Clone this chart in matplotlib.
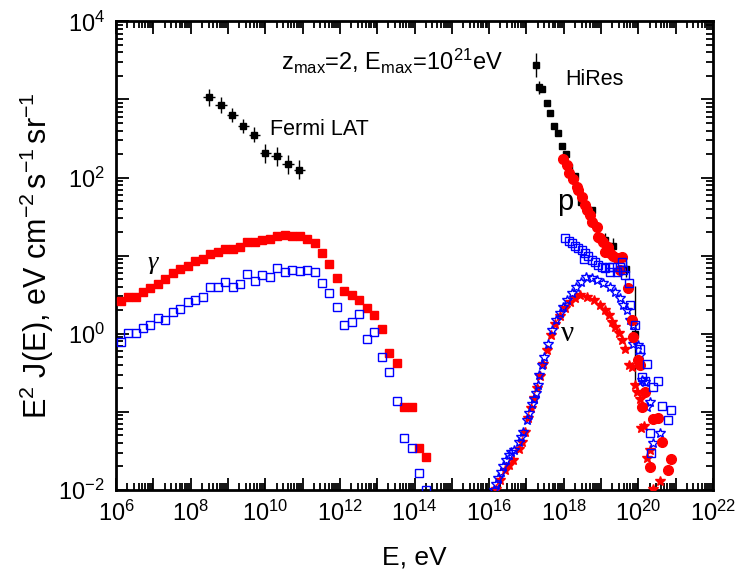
import matplotlib

matplotlib.use("Agg")

import matplotlib.pyplot as plt
import numpy as np
from matplotlib.ticker import FuncFormatter, LogLocator, NullFormatter


# spectra stored as log10(E/eV) and log10(E^2 J / eV cm^-2 s^-1 sr^-1)

# gamma rays, two source models
GAMMA_LOGE = [
    6.12, 6.32, 6.52, 6.72, 6.92, 7.12, 7.32, 7.52, 7.72, 7.92,
    8.12, 8.32, 8.52, 8.72, 8.92, 9.12, 9.32, 9.52, 9.72, 9.92,
    10.12, 10.32, 10.52, 10.72, 10.92, 11.12, 11.32, 11.52, 11.72, 11.92,
    12.12, 12.32, 12.52, 12.72, 12.92, 13.12, 13.32, 13.52, 13.72, 13.92,
    14.12, 14.32,
]
GAMMA_RED = [
    0.417, 0.473, 0.473, 0.528, 0.588, 0.631, 0.699, 0.772, 0.827, 0.866,
    0.930, 0.956, 1.015, 1.041, 1.080, 1.084, 1.105, 1.174, 1.169, 1.195,
    1.208, 1.255, 1.263, 1.255, 1.246, 1.212, 1.156, 1.028, 0.891, 0.712,
    0.545, 0.494, 0.438, 0.323, 0.238, 0.054, -0.250, -0.369, -0.942, -0.942,
    -1.467, -1.583,
]
GAMMA_BLUE = [
    -0.100, 0.007, 0.011, 0.075, 0.109, 0.195, 0.178, 0.280, 0.315, 0.409,
    0.426, 0.468, 0.597, 0.601, 0.656, 0.597, 0.635, 0.763, 0.678, 0.746,
    0.725, 0.836, 0.793, 0.815, 0.802, 0.819, 0.789, 0.644, 0.524, 0.340,
    0.109, 0.156, 0.250, -0.066, 0.020, -0.301, -0.493, -0.861, -1.339, -1.467,
    -1.784, -2.006,
]

# neutrinos
NU_BLUE_LOGE = [
    16.12, 16.19, 16.25, 16.31, 16.38, 16.46, 16.52, 16.58, 16.67, 16.79,
    16.86, 16.92, 17.01, 17.08, 17.15, 17.21, 17.26, 17.30, 17.35, 17.41,
    17.47, 17.59, 17.68, 17.80, 17.90, 17.99, 18.10, 18.22, 18.33, 18.46,
    18.60, 18.76, 18.90, 19.06, 19.24, 19.38, 19.51, 19.60, 19.69, 19.78,
    19.87, 19.87, 20.00, 20.05, 20.09, 20.18, 20.30, 20.23, 20.58, 20.39,
]
NU_BLUE = [
    -1.997, -1.921, -1.844, -1.772, -1.699, -1.622, -1.558, -1.515, -1.485, -1.387,
    -1.323, -1.259, -1.109, -1.015, -0.904, -0.831, -0.754, -0.660, -0.532, -0.404,
    -0.301, -0.126, 0.045, 0.173, 0.259, 0.344, 0.429, 0.515, 0.600, 0.664,
    0.721, 0.712, 0.692, 0.644, 0.600, 0.536, 0.451, 0.365, 0.301, 0.173,
    0.109, -0.126, -0.147, -0.276, -0.596, -0.618, -0.874, -0.938, -1.267, -1.400,
]
NU_RED_LOGE = [
    16.19, 16.30, 16.43, 16.52, 16.65, 16.79, 16.88, 16.97, 17.05, 17.13,
    17.21, 17.29, 17.37, 17.45, 17.56, 17.66, 17.77, 17.90, 18.04, 18.17,
    18.31, 18.44, 18.62, 18.80, 18.98, 19.11, 19.20, 19.29, 19.38, 19.47,
    19.56, 19.65, 19.74, 19.83, 19.91, 19.96, 20.05, 20.14, 20.06, 20.30,
    20.24, 20.58, 20.39,
]
NU_RED = [
    -1.985, -1.878, -1.750, -1.686, -1.622, -1.472, -1.387, -1.259, -1.083, -0.955,
    -0.827, -0.699, -0.545, -0.391, -0.212, -0.019, 0.122, 0.224, 0.327, 0.404,
    0.455, 0.494, 0.472, 0.429, 0.365, 0.301, 0.237, 0.151, 0.087, 0.003,
    -0.083, -0.190, -0.404, -0.426, -0.660, -0.746, -0.840, -1.186, -1.203, -1.494,
    -1.587, -1.887, -1.985,
]

# protons
P_RED_LOGE = [
    17.99, 18.08, 18.15, 18.26, 18.35, 18.39, 18.49, 18.56, 18.62, 18.71,
    18.77, 18.89, 18.93, 18.98, 19.06, 19.11, 19.18, 19.24, 19.33, 19.42,
    19.56, 19.51, 19.72, 19.83, 19.87, 20.00, 20.05, 20.18, 20.09, 20.39,
    20.54, 20.63, 20.88, 20.30, 20.79,
]
P_RED = [
    2.233, 2.160, 2.054, 1.977, 1.882, 1.840, 1.754, 1.647, 1.583, 1.519,
    1.433, 1.362, 1.241, 1.221, 1.177, 1.049, 1.105, 1.028, 0.994, 0.964,
    0.977, 0.814, 0.579, 0.173, -0.041, -0.340, -0.404, -0.746, -0.938, -1.087,
    -1.074, -1.387, -1.609, -1.708, -1.750,
]
P_BLUE_LOGE = [
    18.04, 18.13, 18.22, 18.31, 18.39, 18.49, 18.57, 18.66, 18.53, 18.75,
    18.84, 18.93, 19.02, 19.11, 19.20, 19.29, 19.24, 19.42, 19.51, 19.56,
    19.60, 19.65, 19.74, 19.78, 19.91, 20.05, 20.24, 20.09, 20.18, 20.39,
    20.54, 20.63, 20.88, 20.79, 20.30, 20.34,
]
P_BLUE = [
    1.221, 1.190, 1.156, 1.122, 1.092, 1.071, 1.028, 0.994, 0.951, 0.942,
    0.921, 0.878, 0.856, 0.836, 0.856, 0.856, 0.792, 0.792, 0.856, 0.921,
    0.814, 0.750, 0.644, 0.365, 0.109, -0.190, -0.391, -0.554, -0.605, -0.682,
    -0.609, -0.929, -0.981, -1.100, -1.267, -1.523,
]

# measurements
FERMI_LOGE = [8.49, 8.81, 9.11, 9.41, 9.70, 10.00, 10.31, 10.61, 10.91]
FERMI = [3.03, 2.93, 2.80, 2.66, 2.55, 2.31, 2.27, 2.17, 2.10]
FERMI_YERR = [0.11, 0.10, 0.09, 0.09, 0.10, 0.12, 0.12, 0.12, 0.12]
FERMI_XERR = 0.15

HIRES_LOGE = [
    17.26, 17.35, 17.43, 17.56, 17.64, 17.75, 17.84, 17.95, 18.05, 18.15,
    18.31, 18.47, 18.75, 18.89, 19.11, 19.31, 19.67, 19.90,
]
HIRES = [
    3.442, 3.156, 3.131, 2.951, 2.823, 2.660, 2.574, 2.400, 2.308, 2.138,
    2.019, 1.690, 1.583, 1.369, 1.205, 1.122, 0.827, 0.000,
]
HIRES_YERR = [
    0.15, 0.08, 0.03, 0.03, 0.03, 0.03, 0.03, 0.03, 0.03, 0.03,
    0.03, 0.03, 0.03, 0.03, 0.08, 0.10, 0.10, 0.61,
]


def lin(values):
    return 10.0 ** np.asarray(values, dtype=float)


def log_err(logy, dex):
    y = lin(logy)
    dex = np.asarray(dex, dtype=float)
    return np.vstack([y - y * 10.0 ** (-dex), y * 10.0 ** dex - y])


def main():
    plt.rcParams["font.family"] = ["Liberation Sans", "DejaVu Sans"]
    plt.rcParams["mathtext.fontset"] = "custom"
    plt.rcParams["mathtext.rm"] = "Liberation Sans"
    plt.rcParams["mathtext.it"] = "Liberation Sans:italic"

    fig = plt.figure(figsize=(7.35, 5.79), dpi=100)
    ax = fig.add_axes([0.158, 0.154, 0.812, 0.809])

    red = "#ff0000"
    blue = "#0000ff"

    # data points
    ax.errorbar(
        lin(HIRES_LOGE), lin(HIRES), yerr=log_err(HIRES, HIRES_YERR),
        fmt="s", color="black", ms=5, elinewidth=1.0, capsize=0, zorder=3,
    )
    ax.errorbar(
        lin(FERMI_LOGE), lin(FERMI), yerr=log_err(FERMI, FERMI_YERR),
        xerr=log_err(FERMI_LOGE, [FERMI_XERR] * len(FERMI_LOGE)),
        fmt="s", color="black", ms=5, elinewidth=1.0, capsize=0, zorder=3,
    )

    # gamma rays
    ax.plot(lin(GAMMA_LOGE), lin(GAMMA_RED), "s", color=red, ms=5.5, mec=red, zorder=4)
    ax.plot(lin(GAMMA_LOGE), lin(GAMMA_BLUE), "s", mfc="none", mec=blue,
            ms=5.5, mew=1.0, zorder=4)

    # neutrinos
    ax.plot(lin(NU_RED_LOGE), lin(NU_RED), "*", color=red, ms=7, zorder=4)
    ax.plot(lin(NU_BLUE_LOGE), lin(NU_BLUE), "*", mfc="none", mec=blue,
            ms=7, mew=1.0, zorder=5)

    # protons
    ax.plot(lin(P_RED_LOGE), lin(P_RED), "o", color=red, ms=7, zorder=5)
    ax.plot(lin(P_BLUE_LOGE), lin(P_BLUE), "s", mfc="none", mec=blue,
            ms=5.5, mew=1.0, zorder=6)

    ax.set_xscale("log")
    ax.set_yscale("log")
    ax.set_xlim(1e6, 1e22)
    ax.set_ylim(1e-2, 1e4)

    def even_decades(v, _):
        k = int(round(np.log10(v)))
        return f"$10^{{{k}}}$" if k % 2 == 0 else ""

    for axis in (ax.xaxis, ax.yaxis):
        axis.set_major_locator(LogLocator(base=10, numticks=40))
        axis.set_minor_locator(LogLocator(base=10, subs=np.arange(2, 10), numticks=400))
        axis.set_major_formatter(FuncFormatter(even_decades))
        axis.set_minor_formatter(NullFormatter())

    ax.tick_params(which="both", direction="in", top=True, right=True, width=1.3)
    ax.tick_params(which="major", length=9, labelsize=17, pad=8)
    ax.tick_params(which="minor", length=5)
    for spine in ax.spines.values():
        spine.set_linewidth(2)

    ax.set_xlabel("E, eV", fontsize=19, labelpad=14)
    ax.set_ylabel(r"E$^2$ J(E), eV cm$^{-2}$$\,$s$^{-1}$$\,$sr$^{-1}$",
                  fontsize=22, labelpad=2)

    ax.text(0.462, 0.896, r"z$_{\rm max}$=2, E$_{\rm max}$=10$^{21}$eV",
            transform=ax.transAxes, fontsize=17, ha="center", va="baseline")
    ax.text(1.35e10, 410, "Fermi LAT", fontsize=15.5, ha="left", va="center")
    ax.text(1.1e18, 1780, "HiRes", fontsize=15.5, ha="left", va="center")
    ax.text(6.6e17, 38, "p", fontsize=21, ha="left", va="baseline")
    ax.text(9.3e6, 8.0, "γ", fontsize=19, ha="center", va="center",
            family=["Liberation Serif", "DejaVu Serif"], style="italic")
    ax.text(1.3e18, 1.0, "ν", fontsize=21, ha="center", va="center",
            family=["Liberation Serif", "DejaVu Serif"])

    fig.savefig("out.png", dpi=100)
    plt.close(fig)


if __name__ == "__main__":
    main()
